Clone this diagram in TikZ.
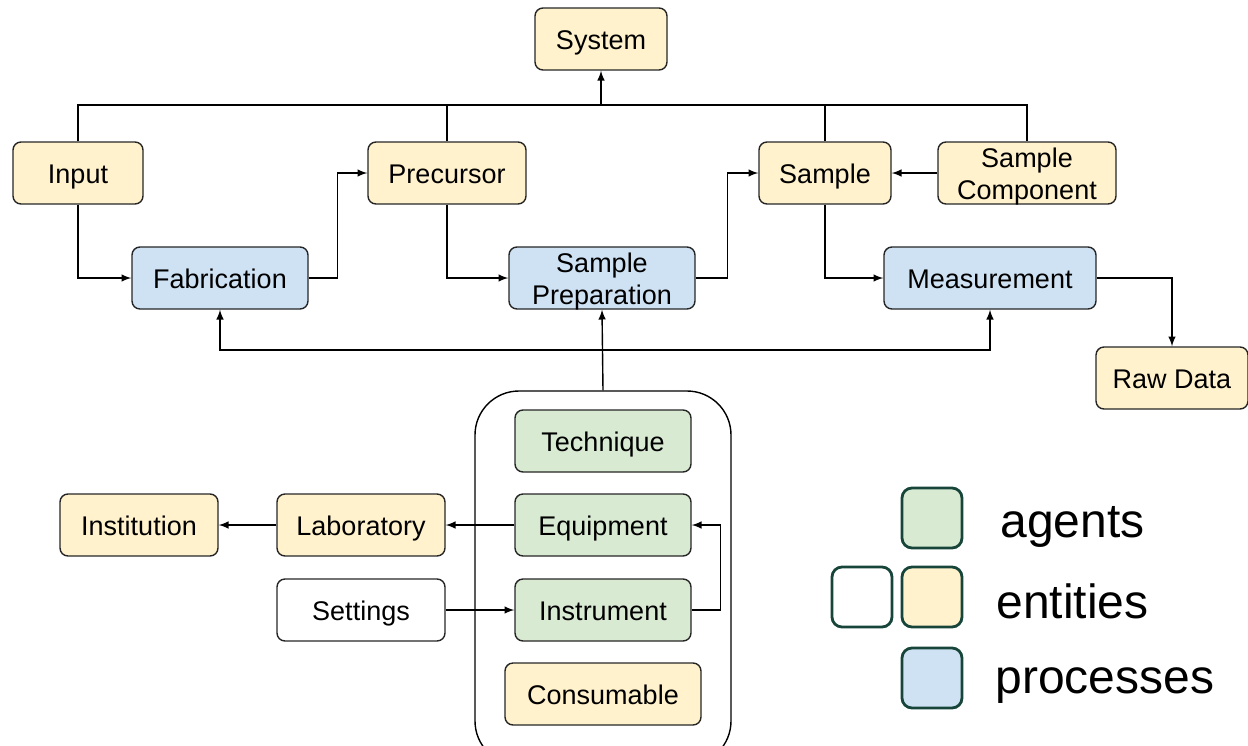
\documentclass[tikz,border=0pt]{standalone}
\usepackage{fontspec}
\setmainfont{Liberation Sans}
\usepackage{tikz}
\definecolor{entityfill}{HTML}{FFF2CC}
\definecolor{processfill}{HTML}{CFE2F3}
\definecolor{agentfill}{HTML}{D9EAD3}
\definecolor{legendline}{HTML}{17453A}

\begin{document}
\begin{tikzpicture}[
        x=0.5pt, y=-0.5pt,
        box/.style={draw=black!85, line width=0.7pt, rounded corners=4pt,
            minimum height=31pt, inner sep=1pt, align=center,
            text height=10pt, text depth=0pt,
            font=\fontsize{13.5}{16}\selectfont},
        twoline/.style={text height=26pt, text depth=0pt},
        entity/.style={box, fill=entityfill},
        process/.style={box, fill=processfill},
        agent/.style={box, fill=agentfill},
        legbox/.style={draw=legendline, line width=1.4pt, rounded corners=5pt,
            minimum width=30pt, minimum height=30pt},
        legtext/.style={anchor=base west, inner sep=0pt, font=\fontsize{24}{26}\selectfont},
        edge/.style={draw, line width=0.7pt, -latex}
    ]
    \useasboundingbox (0,0) rectangle (1248,745);

    % top row
    \node[entity, minimum width=66pt] (system) at (601,39) {System};
    \node[entity, minimum width=65pt] (input) at (78,173) {Input};
    \node[entity, minimum width=79pt] (prec) at (447,173) {Precursor};
    \node[entity, minimum width=66pt] (sample) at (825,173) {Sample};
    \node[entity, twoline, minimum width=89pt] (compo) at (1027,173) {Sample\\Component};

    % processes
    \node[process, minimum width=88pt] (fab) at (220,278) {Fabrication};
    \node[process, twoline, minimum width=93pt] (prep) at (602,278) {Sample\\Preparation};
    \node[process, minimum width=106pt] (meas) at (990,278) {Measurement};
    \node[entity, minimum width=76pt] (raw) at (1172,378) {Raw Data};

    % agents group
    \node[draw, line width=0.7pt, rounded corners=22pt, minimum width=128pt,
        minimum height=187pt] (group) at (603,578) {};
    \node[agent, minimum width=88pt] (tech) at (603,441) {Technique};
    \node[agent, minimum width=88pt] (equip) at (603,525) {Equipment};
    \node[agent, minimum width=88pt] (instr) at (603,610) {Instrument};
    \node[entity, minimum width=98pt] (cons) at (603,694) {Consumable};

    \node[entity, minimum width=79pt] (inst) at (139,525) {Institution};
    \node[entity, minimum width=84pt] (lab) at (361,525) {Laboratory};
    \node[box, minimum width=84pt] (set) at (361,610) {Settings};

    % legend
    \node[legbox, fill=agentfill] (legA) at (932,518) {};
    \node[legbox, fill=entityfill] (legE) at (932,597) {};
    \node[legbox, fill=white] (legW) at (862,597) {};
    \node[legbox, fill=processfill] (legP) at (932,678) {};
    \node[legtext] (txtA) at (1000,537) {agents};
    \node[legtext] (txtE) at (996,618) {entities};
    \node[legtext] (txtP) at (995,693) {processes};

    % bus to system
    \coordinate (bus) at (601,105);
    \draw[line width=0.7pt] (input.north) |- (compo.north |- bus) -- (compo.north);
    \draw[line width=0.7pt] (prec.north) -- (prec.north |- bus);
    \draw[line width=0.7pt] (sample.north) -- (sample.north |- bus);
    \draw[edge] (bus) -- (system.south);

    % flow
    \draw[edge] (input.south) |- (fab.west);
    \draw[edge] (fab.east) -- ++(29,0) |- (prec.west);
    \draw[edge] (prec.south) |- (prep.west);
    \draw[edge] (prep.east) -- ++(32,0) |- (sample.west);
    \draw[edge] (compo.west) -- (sample.east);
    \draw[edge] (sample.south) |- (meas.west);
    \draw[edge] (meas.east) -| (raw.north);

    % agents to processes
    \coordinate (lowbus) at (603,350);
    \draw[edge] (group.north) -- (prep.south);
    \draw[edge] (lowbus) -| (fab.south);
    \draw[edge] (lowbus) -| (meas.south);

    % left side
    \draw[edge] (equip.west) -- (lab.east);
    \draw[edge] (lab.west) -- (inst.east);
    \draw[edge] (set.east) -- (instr.west);
    \draw[edge] (instr.east) -- ++(29,0) |- (equip.east);
\end{tikzpicture}
\end{document}
